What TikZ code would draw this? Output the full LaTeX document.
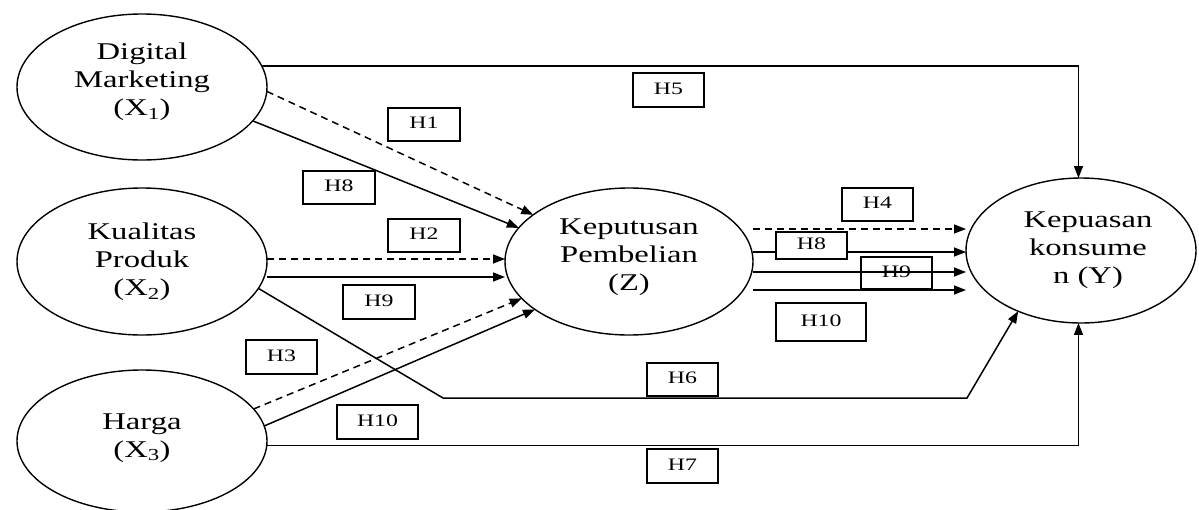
\documentclass[tikz,border=0pt]{standalone}
\usepackage{fontspec}
\setmainfont{Liberation Serif}[FakeStretch=1.36]
\usetikzlibrary{arrows.meta,shapes.geometric,calc}
\begin{document}
\begin{tikzpicture}[x=1pt,y=-1pt,
  line width=1.5pt,
  every node/.style={inner sep=0pt, outer sep=0pt},
  latent/.style={draw, ellipse, line width=1.4pt},
  lbl/.style={align=center, font=\fontsize{24}{27.8}\selectfont},
  hbox/.style={draw, line width=1.6pt, font=\fontsize{17.5}{20}\selectfont, text depth=3pt},
  arr/.style={-{Triangle[length=12pt,width=9pt]}},
  dsh/.style={dash pattern=on 7pt off 5pt}
]
\useasboundingbox (0,0) rectangle (1199,509);

% latent variables
\node[latent, minimum width=250pt, minimum height=146pt] (x1) at (142,87) {};
\node[latent, minimum width=250pt, minimum height=147pt] (x2) at (142,261.5) {};
\node[latent, minimum width=250pt, minimum height=142pt] (x3) at (142,441) {};
\node[latent, minimum width=248pt, minimum height=147pt] (z) at (629,261.5) {};
\node[latent, minimum width=230pt, minimum height=145pt] (y) at (1081,250.5) {};

\node[lbl] (tx1) at (142,82) {Digital\\Marketing\\(X\textsubscript{1})};
\node[lbl] (tx2) at (142,262) {Kualitas\\Produk\\(X\textsubscript{2})};
\node[lbl] (tx3) at (142,438) {Harga\\(X\textsubscript{3})};
\node[lbl] (tz) at (629,257) {Keputusan\\Pembelian\\(Z)};
\node[lbl] (ty) at (1088,250) {Kepuasan\\konsume\\n (Y)};

% hypothesis boxes (unfilled)
\node[hbox, minimum width=72pt, minimum height=33pt] (h1) at (424,124.5) {H1};
\node[hbox, minimum width=72pt, minimum height=33pt] (h8a) at (339,187.5) {H8};
\node[hbox, minimum width=72pt, minimum height=33pt] (h2) at (424,235.5) {H2};
\node[hbox, minimum width=72pt, minimum height=34pt] (h9a) at (379,302) {H9};
\node[hbox, minimum width=71pt, minimum height=34pt] (h3) at (281.5,357) {H3};
\node[hbox, minimum width=81pt, minimum height=34pt] (h10a) at (377.5,422) {H10};
\node[hbox, minimum width=71pt, minimum height=34pt] (h5) at (668.5,90) {H5};
\node[hbox, minimum width=71pt, minimum height=33pt] (h4) at (877.5,204.5) {H4};
\node[hbox, minimum width=71pt, minimum height=32pt] (h9b) at (896.5,273) {H9};
\node[hbox, minimum width=90pt, minimum height=38pt] (h10b) at (821,322) {H10};
\node[hbox, minimum width=71pt, minimum height=33pt] (h6) at (682.5,379.5) {H6};
\node[hbox, minimum width=71pt, minimum height=34pt] (h7) at (682.5,466) {H7};

% X1 connectors
\draw[arr] (x1.10) -| (y.92);
\draw[arr,dsh] (x1.-2) -- (z.154);
\draw[arr] (x1.-17) -- (z.163);

% X2 connectors
\coordinate (x2a) at ([yshift=2.5pt]x2.east);
\coordinate (x2b) at ([yshift=-15.5pt]x2.east);
\draw[arr,dsh] (x2a) -- (x2a -| z.west);
\draw[arr] (x2b) -- (x2b -| z.west);
\coordinate (h6a) at (443,398);
\coordinate (h6b) at (967,398);
\draw[arr] (x2.-13) -- (h6a) -- (h6b) -- (y.-136.6);

% X3 connectors
\draw[arr,dsh] (x3.16.7) -- (z.-161);
\draw[arr] (x3.7.8) -- (z.-153);
\draw[arr] (x3.-2.5) -| (y.-92);

% Z to Y
\coordinate (z1) at ([yshift=32.5pt]z.east);
\coordinate (z2) at ([yshift=9.5pt]z.east);
\coordinate (z3) at ([yshift=-10.5pt]z.east);
\coordinate (z4) at ([yshift=-28.5pt]z.east);
\draw[arr,dsh] (z1) -- (z1 -| y.west);
\draw[arr] (z2) -- (z2 -| y.west);
\draw[arr] (z3) -- (z3 -| y.west);
\draw[arr] (z4) -- (z4 -| y.west);

% H8 box drawn over its line
\node[hbox, fill=white, minimum width=71pt, minimum height=27.5pt] (h8b) at (811.5,245.5) {H8};
\end{tikzpicture}
\end{document}
